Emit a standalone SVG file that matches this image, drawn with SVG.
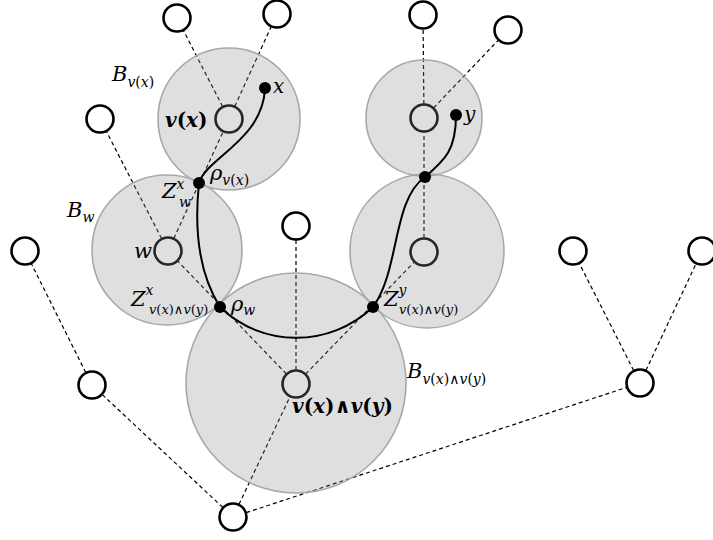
<svg xmlns="http://www.w3.org/2000/svg" width="713" height="540" viewBox="0 0 713 540">
<style>
.e{stroke:#000;stroke-width:1.2;stroke-dasharray:4 3;fill:none}
.n{fill:#fff;stroke:#000;stroke-width:2.6}
.b{fill:#8c8c8c;fill-opacity:0.28;stroke:#a8a8a8;stroke-width:1.6}
.p{fill:none;stroke:#000;stroke-width:2}
.d{fill:#000}
.m{font-family:"DejaVu Serif",serif;font-style:italic;fill:#000}
.u{font-style:normal}
</style>
<rect width="713" height="540" fill="#fff"/>
<g id="connectors">
<line class="e" x1="233" y1="517" x2="92" y2="385"/>
<line class="e" x1="233" y1="517" x2="296" y2="384"/>
<line class="e" x1="233" y1="517" x2="640" y2="383"/>
<line class="e" x1="92" y1="385" x2="25" y2="251"/>
<line class="e" x1="640" y1="383" x2="573" y2="251"/>
<line class="e" x1="640" y1="383" x2="702" y2="251"/>
<line class="e" x1="296" y1="384" x2="168" y2="251"/>
<line class="e" x1="296" y1="384" x2="296" y2="226"/>
<line class="e" x1="296" y1="384" x2="424" y2="252"/>
<line class="e" x1="168" y1="251" x2="100" y2="119"/>
<line class="e" x1="168" y1="251" x2="229" y2="119"/>
<line class="e" x1="229" y1="119" x2="177" y2="18"/>
<line class="e" x1="229" y1="119" x2="277" y2="14"/>
<line class="e" x1="424" y1="252" x2="424" y2="118"/>
<line class="e" x1="424" y1="118" x2="423" y2="15"/>
<line class="e" x1="424" y1="118" x2="508" y2="30"/>
</g>
<g id="node-root"><circle class="n" cx="233" cy="517" r="13.5"/></g>
<g id="node-l1"><circle class="n" cx="92" cy="385" r="13.5"/></g>
<g id="node-l2"><circle class="n" cx="25" cy="251" r="13.5"/></g>
<g id="node-r1"><circle class="n" cx="640" cy="383" r="13.5"/></g>
<g id="node-r2"><circle class="n" cx="573" cy="251" r="13.5"/></g>
<g id="node-r3"><circle class="n" cx="702" cy="251" r="13.5"/></g>
<g id="node-vxy"><circle class="n" cx="296" cy="384" r="13.5"/></g>
<g id="node-m"><circle class="n" cx="296" cy="226" r="13.5"/></g>
<g id="node-w"><circle class="n" cx="168" cy="251" r="13.5"/></g>
<g id="node-wl"><circle class="n" cx="100" cy="119" r="13.5"/></g>
<g id="node-vx"><circle class="n" cx="229" cy="119" r="13.5"/></g>
<g id="node-vx1"><circle class="n" cx="177" cy="18" r="13.5"/></g>
<g id="node-vx2"><circle class="n" cx="277" cy="14" r="13.5"/></g>
<g id="node-rl"><circle class="n" cx="424" cy="252" r="13.5"/></g>
<g id="node-vy"><circle class="n" cx="424" cy="118" r="13.5"/></g>
<g id="node-vy1"><circle class="n" cx="423" cy="15" r="13.5"/></g>
<g id="node-vy2"><circle class="n" cx="508" cy="30" r="13.5"/></g>
<g id="balls">
<circle class="b" cx="229" cy="119" r="71"/>
<circle class="b" cx="167" cy="250" r="75"/>
<circle class="b" cx="296" cy="383" r="110"/>
<circle class="b" cx="424" cy="118" r="58"/>
<circle class="b" cx="427" cy="251" r="77"/>
</g>
<g id="paths">
<path class="p" d="M265,88 C263,140 206,158 199,183"/>
<path class="p" d="M199,183 C193,240 203,280 220,307"/>
<path class="p" d="M220,307 C262,348 330,348 373,307"/>
<path class="p" d="M373,307 C400,270 392,200 425,177"/>
<path class="p" d="M425,177 C445,160 456,150 456,115"/>
<circle class="d" cx="265" cy="88" r="6"/>
<circle class="d" cx="199" cy="183" r="6"/>
<circle class="d" cx="220" cy="307" r="6"/>
<circle class="d" cx="373" cy="307" r="6"/>
<circle class="d" cx="425" cy="177" r="6"/>
<circle class="d" cx="456" cy="115" r="6"/>
</g>
<g id="labels">
<text class="m" x="112" y="81" font-size="21">B<tspan font-size="14" dy="6">v<tspan class="u">(</tspan>x<tspan class="u">)</tspan></tspan></text>
<text class="m" x="273" y="93" font-size="20">x</text>
<text class="m" x="165" y="127" font-size="20" font-weight="bold">v<tspan class="u">(</tspan>x<tspan class="u">)</tspan></text>
<text class="m" x="210" y="180" font-size="21">ρ<tspan font-size="14" dy="5">v<tspan class="u">(</tspan>x<tspan class="u">)</tspan></tspan></text>
<text class="m" x="162" y="198" font-size="21">Z<tspan font-size="14" dy="-9">x</tspan></text>
<text class="m" x="179" y="207" font-size="14">w</text>
<text class="m" x="67" y="217" font-size="21">B<tspan font-size="14" dy="5">w</tspan></text>
<text class="m" x="134" y="258" font-size="21">w</text>
<text class="m" x="131" y="306" font-size="21">Z<tspan font-size="14" dy="-11">x</tspan></text>
<text class="m" x="149" y="314" font-size="13">v<tspan class="u">(</tspan>x<tspan class="u">)∧</tspan>v<tspan class="u">(</tspan>y<tspan class="u">)</tspan></text>
<text class="m" x="231" y="311" font-size="21">ρ<tspan font-size="14" dy="4">w</tspan></text>
<text class="m" x="384" y="306" font-size="21">Z<tspan font-size="14" dy="-11">y</tspan></text>
<text class="m" x="399" y="314" font-size="13">v<tspan class="u">(</tspan>x<tspan class="u">)∧</tspan>v<tspan class="u">(</tspan>y<tspan class="u">)</tspan></text>
<text class="m" x="292" y="413" font-size="20" font-weight="bold">v<tspan class="u">(</tspan>x<tspan class="u">)∧</tspan>v<tspan class="u">(</tspan>y<tspan class="u">)</tspan></text>
<text class="m" x="407" y="378" font-size="21">B<tspan font-size="14" dy="6">v<tspan class="u">(</tspan>x<tspan class="u">)∧</tspan>v<tspan class="u">(</tspan>y<tspan class="u">)</tspan></tspan></text>
<text class="m" x="464" y="121" font-size="20">y</text>
</g>
</svg>
